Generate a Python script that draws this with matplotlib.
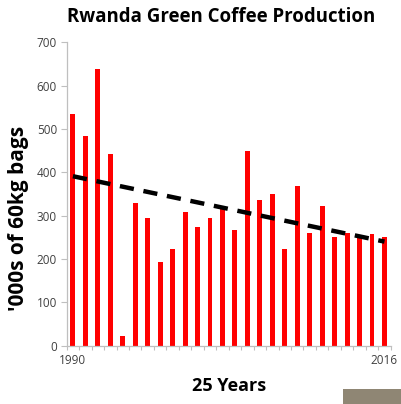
import numpy as np
import matplotlib.pyplot as plt
from matplotlib.patches import Rectangle

# green coffee production, thousands of 60kg bags
production = [535, 484, 639, 443, 22, 329, 294, 193, 222, 308, 273, 295, 321,
              266, 450, 337, 351, 224, 369, 259, 323, 250, 259, 251, 258, 250]
firstYear = '1990'
lastYear = '2016'

plt.rcParams['font.family'] = ['Open Sans', 'DejaVu Sans']

fig = plt.figure(figsize=(4.02, 4.04), dpi=100)
ax = fig.add_axes([66.7/402, 1 - 345.7/404, 324/402, 303.4/404])

xs = np.arange(len(production))
ax.bar(xs, production, width=0.4, color='#ff0000', zorder=2)

# linear trend over the bars
slope, intercept = np.polyfit(xs, production, 1)
ax.plot(xs, slope*xs + intercept, color='black', linewidth=3.2,
        linestyle=(0, (3.2, 2.2)), zorder=3)

ax.set_xlim(-0.5, len(production) - 0.5)
ax.set_ylim(0, 700)
ax.set_yticks(np.arange(0, 701, 100))
ax.set_xticks(np.arange(-0.5, len(production), 1))
ax.set_xticklabels([])
ax.tick_params(axis='x', direction='out', length=3, color='#bfbfbf', width=0.8)
ax.tick_params(axis='y', direction='out', length=4, color='#bfbfbf', width=0.8,
               labelsize=8.5, labelcolor='#404040', pad=3)
for side in ['top', 'right']:
    ax.spines[side].set_visible(False)
for side in ['left', 'bottom']:
    ax.spines[side].set_color('#bfbfbf')
    ax.spines[side].set_linewidth(0.9)

ax.text(0, -0.028, firstYear, transform=ax.get_xaxis_transform(),
        ha='center', va='top', fontsize=8.5, color='#404040')
ax.text(len(production) - 1, -0.028, lastYear, transform=ax.get_xaxis_transform(),
        ha='center', va='top', fontsize=8.5, color='#404040')

fig.text(221/402, 1 - 17/404, 'Rwanda Green Coffee Production',
         ha='center', va='center', fontsize=13.4, fontweight='bold')
fig.text(229/402, 1 - 386/404, '25 Years', ha='center', va='center',
         fontsize=13, fontweight='bold')
fig.text(19/402, 1 - 218/404, "'000s of 60kg bags", ha='center', va='center',
         rotation=90, fontsize=15, fontweight='bold')

fig.patches.append(Rectangle((343/402, 0), 59/402, 15/404, transform=fig.transFigure,
                             facecolor='#8f8674', edgecolor='none'))

fig.savefig('out.png', dpi=100)
